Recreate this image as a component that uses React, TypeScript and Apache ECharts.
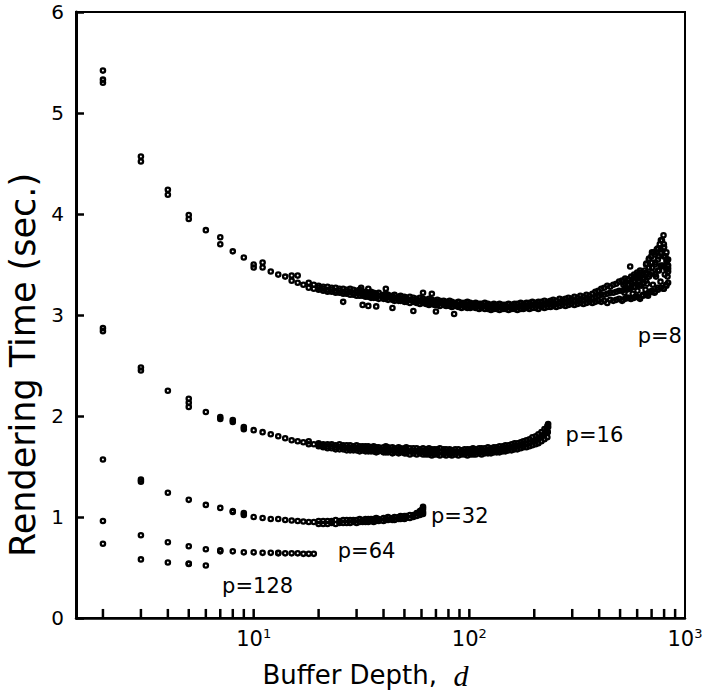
import React, { useEffect, useRef } from 'react';
import * as echarts from 'echarts';

const FONT = 'DejaVu Sans';

// minor + major tick positions on the log axis (buffer depth)
const xTickValues = [2, 3, 4, 5, 6, 7, 8, 9, 10, 20, 30, 40, 50, 60, 70, 80, 90, 100, 200, 300, 400, 500, 600, 700, 800, 900];

// ---- individual points at small buffer depth ----
const p8LowD = [2, 2, 2, 3, 3, 4, 4, 5, 5, 6, 7, 7, 8, 9, 10, 10, 11, 11, 12, 13, 14, 15, 15, 16, 16, 17, 18, 18, 19, 19];
const p8LowT = [5.42, 5.33, 5.3, 4.57, 4.52, 4.24, 4.19, 3.99, 3.95, 3.84, 3.77, 3.7, 3.63, 3.57, 3.5, 3.47, 3.52, 3.47, 3.43, 3.4, 3.38, 3.39, 3.34, 3.39, 3.32, 3.3, 3.32, 3.27, 3.3, 3.26];

const p16LowD = [2, 2, 3, 3, 4, 5, 5, 5, 6, 7, 7, 8, 8, 9, 9, 10, 11, 12, 13, 14, 15, 16, 17, 18, 18, 19];
const p16LowT = [2.87, 2.84, 2.48, 2.45, 2.25, 2.17, 2.13, 2.09, 2.04, 1.99, 1.97, 1.96, 1.94, 1.89, 1.87, 1.86, 1.84, 1.82, 1.8, 1.78, 1.76, 1.75, 1.74, 1.75, 1.72, 1.72];

const p32LowD = [2, 3, 3, 4, 5, 6, 7, 8, 8, 9, 9, 10, 11, 12, 13, 14, 15, 16, 17, 18, 19];
const p32LowT = [1.57, 1.37, 1.35, 1.24, 1.17, 1.12, 1.09, 1.06, 1.05, 1.04, 1.02, 1.0, 0.99, 0.98, 0.98, 0.97, 0.965, 0.96, 0.955, 0.95, 0.95];

const p64D = [2, 3, 4, 5, 6, 7, 7, 8, 9, 10, 11, 12, 13, 13, 14, 15, 16, 17, 18, 19];
const p64T = [0.96, 0.82, 0.75, 0.71, 0.68, 0.67, 0.66, 0.66, 0.65, 0.65, 0.645, 0.645, 0.64, 0.645, 0.64, 0.64, 0.64, 0.635, 0.635, 0.635];

const p128D = [2, 3, 4, 5, 5, 6];
const p128T = [0.735, 0.58, 0.55, 0.54, 0.535, 0.52];

// ---- dense region: buffer depths shared by the repeated runs ----
const denseD = [
  20, 21, 22, 23, 24, 25, 26, 27, 28, 29,
  30, 31, 32, 33, 34, 35, 36, 37, 38, 40,
  41, 42, 44, 45, 47, 48, 50, 51, 53, 55,
  57, 59, 61, 63, 65, 67, 69, 71, 73, 76,
  78, 81, 83, 86, 89, 92, 95, 98, 101, 104,
  107, 111, 114, 118, 122, 126, 130, 134, 138, 143,
  147, 152, 157, 162, 167, 173, 178, 184, 190, 196,
  203, 209, 216, 223, 230, 238, 245, 253, 262, 270,
  279, 288, 297, 307, 317, 327, 338, 349, 360, 372,
  384, 396, 409, 422, 436, 450, 465, 480, 495, 511,
  528, 545, 563, 581, 600, 619, 639, 660, 681, 703,
  726, 749, 773, 798, 820, 835,
];

const p8RunA = [
  3.29, 3.28, 3.28, 3.27, 3.27, 3.26, 3.26, 3.25, 3.26, 3.25,
  3.24, 3.25, 3.23, 3.23, 3.22, 3.23, 3.22, 3.21, 3.22, 3.2,
  3.21, 3.2, 3.19, 3.2, 3.18, 3.19, 3.18, 3.17, 3.18, 3.17,
  3.16, 3.17, 3.16, 3.15, 3.16, 3.15, 3.14, 3.15, 3.14, 3.14,
  3.13, 3.14, 3.13, 3.12, 3.13, 3.12, 3.12, 3.13, 3.12, 3.11,
  3.12, 3.11, 3.11, 3.12, 3.11, 3.1, 3.11, 3.1, 3.11, 3.1,
  3.1, 3.11, 3.1, 3.11, 3.11, 3.12, 3.11, 3.12, 3.12, 3.13,
  3.12, 3.13, 3.13, 3.14, 3.13, 3.14, 3.15, 3.14, 3.16, 3.15,
  3.16, 3.17, 3.16, 3.18, 3.17, 3.19, 3.18, 3.2, 3.19, 3.21,
  3.23, 3.24, 3.26, 3.27, 3.29, 3.28, 3.3, 3.31, 3.33, 3.34,
  3.36, 3.35, 3.38, 3.4, 3.42, 3.44, 3.41, 3.5, 3.56, 3.62,
  3.6, 3.66, 3.74, 3.7, 3.62, 3.55,
];
const p8RunB = [
  3.25, 3.24, 3.23, 3.23, 3.22, 3.22, 3.21, 3.21, 3.2, 3.2,
  3.19, 3.19, 3.19, 3.18, 3.18, 3.17, 3.17, 3.17, 3.16, 3.16,
  3.16, 3.15, 3.15, 3.14, 3.14, 3.14, 3.13, 3.13, 3.12, 3.13,
  3.12, 3.11, 3.12, 3.11, 3.1, 3.11, 3.1, 3.1, 3.09, 3.1,
  3.09, 3.09, 3.08, 3.09, 3.08, 3.07, 3.08, 3.07, 3.07, 3.08,
  3.07, 3.06, 3.07, 3.06, 3.06, 3.05, 3.06, 3.06, 3.05, 3.06,
  3.06, 3.05, 3.06, 3.06, 3.05, 3.06, 3.06, 3.07, 3.06, 3.07,
  3.07, 3.06, 3.08, 3.07, 3.08, 3.08, 3.09, 3.08, 3.09, 3.1,
  3.09, 3.1, 3.11, 3.1, 3.11, 3.12, 3.11, 3.12, 3.13, 3.12,
  3.13, 3.14, 3.13, 3.14, 3.12, 3.15, 3.14, 3.15, 3.16, 3.14,
  3.16, 3.17, 3.16, 3.17, 3.18, 3.16, 3.19, 3.2, 3.22, 3.24,
  3.23, 3.25, 3.27, 3.26, 3.29, 3.32,
];
// middle run (up to d = 372), C from d = 384, D from d = 528
const p8RunM = [
  3.27, 3.26, 3.25, 3.25, 3.24, 3.24, 3.23, 3.23, 3.23, 3.22,
  3.22, 3.22, 3.21, 3.2, 3.2, 3.2, 3.19, 3.19, 3.19, 3.18,
  3.18, 3.18, 3.17, 3.17, 3.16, 3.16, 3.16, 3.15, 3.15, 3.15,
  3.14, 3.14, 3.14, 3.13, 3.13, 3.13, 3.12, 3.12, 3.12, 3.12,
  3.11, 3.11, 3.11, 3.1, 3.1, 3.1, 3.1, 3.1, 3.09, 3.09,
  3.09, 3.09, 3.09, 3.09, 3.08, 3.08, 3.08, 3.08, 3.08, 3.08,
  3.08, 3.08, 3.08, 3.08, 3.08, 3.09, 3.08, 3.09, 3.09, 3.1,
  3.1, 3.1, 3.1, 3.11, 3.11, 3.11, 3.12, 3.11, 3.12, 3.13,
  3.13, 3.13, 3.14, 3.14, 3.14, 3.15, 3.15, 3.16, 3.16, 3.17,
];
const p8RunC = [3.18, 3.19, 3.2, 3.2, 3.21, 3.22, 3.22, 3.23, 3.24, 3.24, 3.26, 3.26, 3.27, 3.28, 3.3, 3.3, 3.31, 3.34, 3.38, 3.42, 3.4, 3.44, 3.49, 3.48, 3.45, 3.43];
const p8RunD = [3.31, 3.3, 3.33, 3.34, 3.36, 3.37, 3.36, 3.42, 3.47, 3.52, 3.5, 3.55, 3.61, 3.58, 3.54, 3.49];

const p8TailD = [
  512, 518, 524, 530, 536, 542, 548, 554, 560, 566,
  572, 578, 584, 590, 596, 602, 608, 614, 620, 626,
  632, 638, 644, 650, 656, 662, 668, 674, 680, 686,
  692, 698, 704, 710, 716, 722, 728, 734, 740, 746,
  752, 758, 764, 770, 776, 782, 788, 794, 800, 806,
  812, 818, 824, 830, 835,
];
const p8TailT = [
  3.15, 3.3, 3.22, 3.33, 3.25, 3.17, 3.35, 3.26, 3.16, 3.31,
  3.21, 3.37, 3.28, 3.18, 3.4, 3.24, 3.33, 3.17, 3.42, 3.29,
  3.4, 3.2, 3.36, 3.44, 3.25, 3.51, 3.31, 3.19, 3.55, 3.4,
  3.23, 3.58, 3.47, 3.3, 3.62, 3.22, 3.52, 3.38, 3.65, 3.27,
  3.58, 3.44, 3.7, 3.33, 3.62, 3.74, 3.49, 3.26, 3.67, 3.4,
  3.58, 3.3, 3.52, 3.38, 3.46,
];
const p8OutD = [26, 31.5, 32, 34, 34, 37, 41, 44, 55, 61, 67, 70, 85, 557, 795];
const p8OutT = [3.13, 3.27, 3.1, 3.26, 3.09, 3.085, 3.26, 3.07, 3.04, 3.22, 3.21, 3.035, 3.01, 3.48, 3.79];

const p16RunA = [
  1.73, 1.72, 1.72, 1.72, 1.71, 1.72, 1.71, 1.71, 1.71, 1.7,
  1.71, 1.7, 1.7, 1.7, 1.7, 1.69, 1.7, 1.69, 1.69, 1.69,
  1.7, 1.69, 1.69, 1.68, 1.69, 1.68, 1.68, 1.69, 1.68, 1.68,
  1.68, 1.67, 1.68, 1.67, 1.68, 1.67, 1.67, 1.67, 1.68, 1.67,
  1.67, 1.67, 1.66, 1.67, 1.67, 1.66, 1.67, 1.67, 1.67, 1.68,
  1.67, 1.68, 1.68, 1.68, 1.69, 1.68, 1.69, 1.69, 1.7, 1.7,
  1.71, 1.71, 1.72, 1.73, 1.73, 1.74, 1.75, 1.76, 1.77, 1.79,
  1.8, 1.82, 1.84, 1.87, 1.9,
];
const p16RunM = [
  1.715, 1.705, 1.7, 1.7, 1.69, 1.695, 1.69, 1.685, 1.685, 1.68,
  1.685, 1.675, 1.68, 1.675, 1.675, 1.67, 1.675, 1.665, 1.67, 1.665,
  1.67, 1.665, 1.66, 1.66, 1.66, 1.66, 1.655, 1.66, 1.65, 1.655,
  1.65, 1.65, 1.65, 1.645, 1.65, 1.64, 1.645, 1.645, 1.645, 1.645,
  1.64, 1.645, 1.635, 1.645, 1.64, 1.64, 1.645, 1.64, 1.645, 1.65,
  1.645, 1.655, 1.65, 1.655, 1.66, 1.655, 1.665, 1.665, 1.67, 1.675,
  1.68, 1.685, 1.69, 1.7, 1.7, 1.71, 1.72, 1.725, 1.735, 1.75,
  1.76, 1.775, 1.795, 1.82, 1.845,
];
const p16RunB = [
  1.7, 1.69, 1.68, 1.68, 1.67, 1.67, 1.67, 1.66, 1.66, 1.66,
  1.66, 1.65, 1.66, 1.65, 1.65, 1.65, 1.65, 1.64, 1.65, 1.64,
  1.64, 1.64, 1.63, 1.64, 1.63, 1.64, 1.63, 1.63, 1.62, 1.63,
  1.62, 1.63, 1.62, 1.62, 1.62, 1.61, 1.62, 1.62, 1.61, 1.62,
  1.61, 1.62, 1.61, 1.62, 1.61, 1.62, 1.62, 1.61, 1.62, 1.62,
  1.62, 1.63, 1.62, 1.63, 1.63, 1.63, 1.64, 1.64, 1.64, 1.65,
  1.65, 1.66, 1.66, 1.67, 1.67, 1.68, 1.69, 1.69, 1.7, 1.71,
  1.72, 1.73, 1.75, 1.77, 1.79,
];
const p16TailD = [200, 206, 213, 219, 224, 228, 231, 232, 232];
const p16TailT = [1.75, 1.77, 1.79, 1.81, 1.83, 1.86, 1.84, 1.89, 1.92];

const p32RunA = [
  0.96, 0.96, 0.96, 0.96, 0.97, 0.96, 0.97, 0.97, 0.97, 0.97,
  0.97, 0.98, 0.97, 0.98, 0.98, 0.98, 0.98, 0.99, 0.98, 0.99,
  0.99, 1.0, 0.99, 1.0, 1.0, 1.01, 1.01, 1.01, 1.02, 1.02,
  1.04, 1.06, 1.08,
];
const p32RunB = [
  0.93, 0.93, 0.93, 0.94, 0.93, 0.94, 0.94, 0.94, 0.94, 0.95,
  0.94, 0.95, 0.95, 0.95, 0.95, 0.96, 0.95, 0.96, 0.96, 0.96,
  0.97, 0.97, 0.97, 0.97, 0.98, 0.98, 0.98, 0.99, 0.99, 1.0,
  1.01, 1.02, 1.03,
];
const p32TailD = [58, 60, 61, 61];
const p32TailT = [1.04, 1.07, 1.1, 1.05];

// curve labels
const labelText = ['p=8', 'p=16', 'p=32', 'p=64', 'p=128'];
const labelD = [600, 278, 66, 24.4, 7.1];
const labelT = [2.79, 1.81, 1.01, 0.66, 0.32];

const zip = (xs: number[], ys: number[]) => ys.map((y, i) => [xs[i], y]);

// open-circle marker drawn as a filled annulus (outer r=3, hole r=0.9)
const RING = 'path://M3,0A3,3 0 1,1 -3,0A3,3 0 1,1 3,0ZM0.9,0A0.9,0.9 0 1,0 -0.9,0A0.9,0.9 0 1,0 0.9,0Z';

const ring = (name: string, data: number[][]) => ({
  type: 'scatter',
  name,
  data,
  symbol: RING,
  symbolSize: 6.6,
  silent: true,
  z: 3,
  itemStyle: { color: '#000', borderWidth: 0, opacity: 1 },
  emphasis: { disabled: true },
});

export default function App() {
  const ref = useRef<HTMLDivElement>(null);
  useEffect(() => {
    if (!ref.current) return;
    const chart = echarts.init(ref.current, null, { renderer: 'svg' });
    const option: any = {
      animation: false,
      backgroundColor: '#fff',
      grid: {
        left: 76, right: 28, top: 12, bottom: 74,
        show: true, borderColor: '#000', borderWidth: 2,
        outerBoundsMode: 'none',
      },
      xAxis: {
        type: 'log',
        logBase: 10,
        min: 1.5,
        max: 1000,
        axisLine: { show: true, onZero: false, lineStyle: { color: '#000', width: 2.5 } },
        axisTick: { show: false },
        minorTick: { show: false },
        splitLine: { show: false },
        axisLabel: {
          margin: 9,
          formatter: (v: number) => {
            const e = Math.log10(v);
            const r = Math.round(e);
            if (Math.abs(e - r) > 1e-6) return '';
            return `{b|10}{s|${r}}`;
          },
          rich: {
            b: { fontSize: 21, fontFamily: FONT, color: '#000', lineHeight: 24 },
            s: { fontSize: 13, fontFamily: FONT, color: '#000', lineHeight: 13, verticalAlign: 'top' },
          },
        },
        name: '{t|Buffer Depth,  }{i|d}',
        nameLocation: 'middle',
        nameGap: 42,
        nameTextStyle: {
          padding: [0, 30, 0, 0],
          rich: {
            t: { fontSize: 26, fontFamily: FONT, color: '#000', lineHeight: 30 },
            i: { fontSize: 30, fontFamily: 'Liberation Serif', fontStyle: 'italic', color: '#000', lineHeight: 30 },
          },
        },
      },
      yAxis: {
        type: 'value',
        min: 0,
        max: 6,
        interval: 1,
        axisLine: { show: true, onZero: false, lineStyle: { color: '#000', width: 3 } },
        axisTick: { show: true, inside: true, length: 8, lineStyle: { color: '#000', width: 2.5 } },
        splitLine: { show: false },
        axisLabel: { color: '#000', fontSize: 20, fontFamily: FONT, margin: 12 },
        name: 'Rendering Time (sec.)',
        nameLocation: 'middle',
        nameGap: 36,
        nameTextStyle: { fontSize: 35, fontFamily: FONT, color: '#000', padding: [0, 100, 0, 0] },
      },
      series: [
        {
          type: 'scatter',
          name: 'xticks',
          silent: true,
          clip: false,
          z: 10,
          symbol: 'rect',
          symbolSize: [2.5, 9],
          itemStyle: { color: '#000', opacity: 1 },
          emphasis: { disabled: true },
          data: xTickValues.map((d) => [d, 0.045]),
        },
        ring('p8low', zip(p8LowD, p8LowT)),
        ring('p8A', zip(denseD, p8RunA)),
        ring('p8M', zip(denseD, p8RunM)),
        ring('p8B', zip(denseD, p8RunB)),
        ring('p8C', zip(denseD.slice(90), p8RunC)),
        ring('p8D', zip(denseD.slice(100), p8RunD)),
        ring('p8tail', zip(p8TailD, p8TailT)),
        ring('p8out', zip(p8OutD, p8OutT)),
        ring('p16low', zip(p16LowD, p16LowT)),
        ring('p16A', zip(denseD, p16RunA)),
        ring('p16M', zip(denseD, p16RunM)),
        ring('p16B', zip(denseD, p16RunB)),
        ring('p16tail', zip(p16TailD, p16TailT)),
        ring('p32low', zip(p32LowD, p32LowT)),
        ring('p32A', zip(denseD, p32RunA)),
        ring('p32B', zip(denseD, p32RunB)),
        ring('p32tail', zip(p32TailD, p32TailT)),
        ring('p64', zip(p64D, p64T)),
        ring('p128', zip(p128D, p128T)),
        {
          type: 'scatter',
          name: 'labels',
          silent: true,
          symbolSize: 1,
          itemStyle: { color: 'rgba(0,0,0,0)', opacity: 1 },
          emphasis: { disabled: true },
          data: labelText.map((t, i) => ({ name: t, value: [labelD[i], labelT[i]] })),
          label: {
            show: true,
            position: 'right',
            distance: 0,
            formatter: '{b}',
            fontSize: 21,
            fontFamily: FONT,
            color: '#000',
            opacity: 1,
          },
          z: 5,
        },
      ],
    };
    chart.setOption(option);
    return () => chart.dispose();
  }, []);
  return (
    <div
      ref={ref}
      style={{ position: 'absolute', left: 0, top: 0, width: 713, height: 692, background: '#fff' }}
    />
  );
}
